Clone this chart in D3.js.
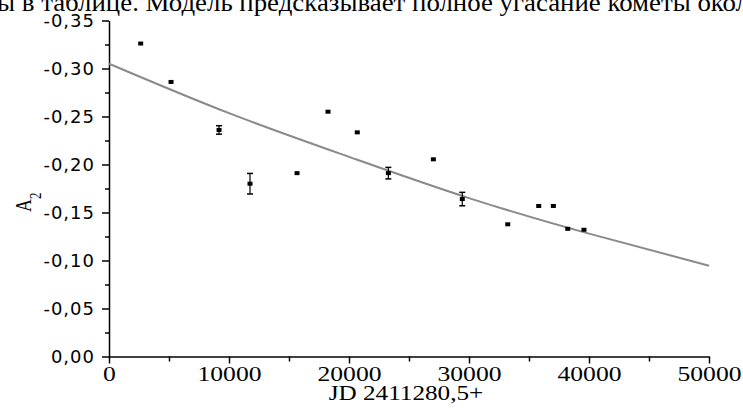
<!DOCTYPE html>
<html>
<head>
<meta charset="utf-8">
<script src="https://d3js.org/d3.v7.min.js"></script>
<style>
  body { margin: 0; background: #fff; }
  svg { display: block; }
  .ylab text { font-family: "DejaVu Sans", sans-serif; font-size: 18px; letter-spacing: 1px; fill: #000; }
  .xlab text { font-family: "Liberation Serif", "Times New Roman", serif; font-size: 21px; fill: #000; }
  .axis path, .axis line { stroke: #000; stroke-width: 1.5; }
</style>
</head>
<body>
<div id="chart"></div>
<script>
// observations: time (JD - 2411280,5), A2 and its error
var jd   = [2640, 5170, 9170, 11750, 15670, 18250, 20690, 23280, 27030, 29440, 33230, 35810, 37030, 38230, 39580];
var a2   = [-0.326, -0.286, -0.236, -0.180, -0.191, -0.255, -0.2335, -0.191, -0.2054, -0.164, -0.1377, -0.1568, -0.1568, -0.133, -0.132];
var a2err = [0, 0, 0.0044, 0.0107, 0, 0, 0, 0.006, 0, 0.007, 0, 0, 0, 0, 0];

// model curve
var fitJd = [0, 10000, 20000, 30000, 40000, 50000];
var fitA2 = [-0.305, -0.2535, -0.208, -0.165, -0.128, -0.0946];

var xTicks = [0, 10000, 20000, 30000, 40000, 50000];
var yTicks = [0, -0.05, -0.10, -0.15, -0.20, -0.25, -0.30, -0.35];

var W = 743, H = 408;
var svg = d3.select("#chart").append("svg").attr("width", W).attr("height", H);

var x = d3.scaleLinear().domain([0, 50000]).range([109, 709]);
var y = d3.scaleLinear().domain([0, -0.35]).range([356.5, 20.5]);

// cut-off line of page text above the figure
svg.append("text")
    .attr("x", -3).attr("y", 11)
    .attr("textLength", 752).attr("lengthAdjust", "spacingAndGlyphs")
    .style("font-family", "Liberation Serif, serif")
    .style("font-size", "26px")
    .text("ы в таблице. Модель предсказывает полное угасание кометы окол");

function fmt(v) { return v.toFixed(2).replace(".", ","); }

// y axis: minor then major
svg.append("g").attr("class", "axis")
    .attr("transform", "translate(" + x(0) + ",0)")
    .call(d3.axisLeft(y).tickValues(d3.range(0, 7).map(function (i) { return -0.025 - i * 0.05; }))
        .tickSize(4).tickFormat("").tickSizeOuter(0))
    .select(".domain").remove();
svg.append("g").attr("class", "axis ylab")
    .attr("transform", "translate(" + x(0) + ",0)")
    .call(d3.axisLeft(y).tickValues(yTicks).tickFormat(fmt).tickSize(7).tickSizeOuter(0).tickPadding(7));

// x axis
svg.append("g").attr("class", "axis")
    .attr("transform", "translate(0," + y(0) + ")")
    .call(d3.axisBottom(x).tickValues([5000, 15000, 25000, 35000, 45000]).tickSize(5).tickFormat("").tickSizeOuter(0))
    .select(".domain").remove();
svg.append("g").attr("class", "axis xlab")
    .attr("transform", "translate(0," + y(0) + ")")
    .call(d3.axisBottom(x).tickValues(xTicks).tickFormat(function (d) { return d; }).tickSize(7).tickSizeOuter(0).tickPadding(3));

svg.selectAll(".axis text").attr("fill", "#000");
svg.selectAll(".xlab text").attr("transform", "scale(1.22,1)");

// axis titles
svg.append("text")
    .attr("transform", "translate(406,400) scale(1.2,1)")
    .attr("text-anchor", "middle")
    .style("font-family", "Liberation Serif, serif").style("font-size", "21px")
    .text("JD 2411280,5+");

var yt = svg.append("text")
    .attr("transform", "translate(31,212) scale(1.3,1) rotate(-90)")
    .style("font-family", "Liberation Serif, serif").style("font-size", "18px");
yt.append("tspan").text("A");
yt.append("tspan").attr("dy", 8).style("font-size", "13px").text("2");

// model curve
var fit = fitJd.map(function (d, i) { return [d, fitA2[i]]; });
svg.append("path")
    .datum(fit)
    .attr("fill", "none")
    .attr("stroke", "#8a8a8a")
    .attr("stroke-width", 2)
    .attr("d", d3.line().x(function (d) { return x(d[0]); }).y(function (d) { return y(d[1]); }).curve(d3.curveNatural));

// error bars
var obs = jd.map(function (d, i) { return { t: d, a: a2[i], e: a2err[i] }; });
var eb = svg.selectAll(".err").data(obs.filter(function (d) { return d.e > 0; })).enter().append("g");
eb.append("line")
    .attr("x1", function (d) { return x(d.t); }).attr("x2", function (d) { return x(d.t); })
    .attr("y1", function (d) { return y(d.a - d.e); }).attr("y2", function (d) { return y(d.a + d.e); })
    .attr("stroke", "#000").attr("stroke-width", 1.2);
[-1, 1].forEach(function (s) {
    eb.append("line")
        .attr("x1", function (d) { return x(d.t) - 3; }).attr("x2", function (d) { return x(d.t) + 3; })
        .attr("y1", function (d) { return y(d.a + s * d.e); }).attr("y2", function (d) { return y(d.a + s * d.e); })
        .attr("stroke", "#000").attr("stroke-width", 1.5);
});

// points
svg.selectAll(".pt").data(obs).enter().append("rect")
    .attr("x", function (d) { return x(d.t) - 2.5; })
    .attr("y", function (d) { return y(d.a) - 2; })
    .attr("width", 5).attr("height", 4)
    .attr("fill", "#000");
</script>
</body>
</html>
